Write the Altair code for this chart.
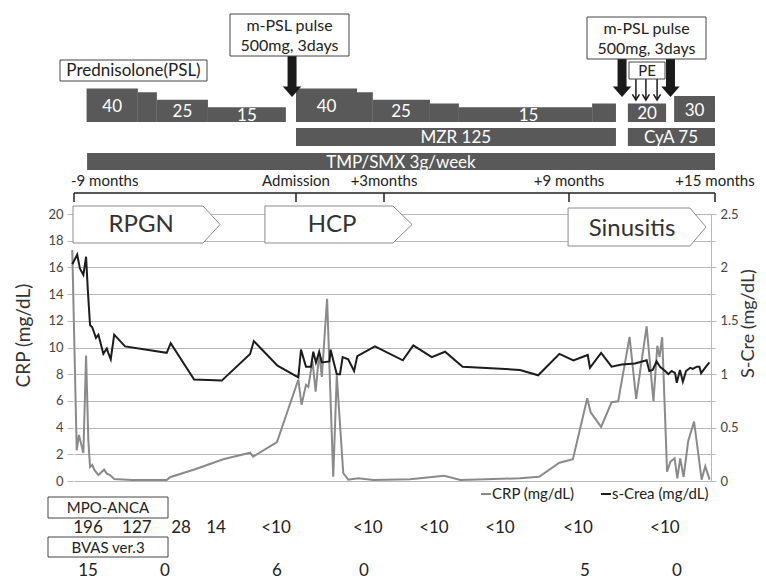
import altair as alt
import pandas as pd

# ---------------- data (x in months from admission) ----------------
crp_month = [-9.07, -8.89, -8.80, -8.72, -8.62, -8.51, -8.42, -8.35, -8.26, -8.18,
             -8.01, -7.78, -7.67, -7.54, -7.37, -6.66, -5.24, -5.11, -4.09, -2.95,
             -1.86, -1.74, -0.77, 0.08, 0.19, 0.34, 0.42, 0.56, 0.67, 0.79,
             0.88, 1.06, 1.27, 1.39, 1.61, 1.78, 2.12, 2.64, 3.84, 4.17,
             4.95, 5.48, 7.41, 8.03, 8.69, 9.16, 9.75, 9.89, 10.32, 10.75,
             11.02, 11.49, 11.76, 12.19, 12.47, 12.63, 12.72, 12.83, 13.03, 13.17,
             13.34, 13.45, 13.57, 13.71, 13.90, 14.14, 14.33, 14.45, 14.60, 14.78]
crp_value = [17.3, 2.3, 3.45, 2.85, 2.1, 9.4, 3.1, 1.05, 1.2, 0.85,
             0.45, 0.85, 0.55, 0.45, 0.15, 0.08, 0.07, 0.28, 0.88, 1.63,
             2.12, 1.82, 2.92, 7.6, 5.7, 7.2, 7.05, 9.0, 6.7, 9.6,
             7.8, 13.65, 0.32, 7.9, 0.6, 0.1, 0.2, 0.07, 0.13, 0.2,
             0.4, 0.07, 0.2, 0.32, 1.37, 1.63, 6.2, 5.15, 4.05, 5.9,
             5.97, 10.8, 6.15, 11.58, 5.98, 10.13, 9.3, 10.77, 0.7, 1.45,
             1.7, 0.2, 1.7, 0.3, 3.0, 4.45, 1.8, 0.1, 1.1, 0.1]

scre_month = [-9.07, -8.87, -8.76, -8.62, -8.51, -8.44, -8.35, -8.26, -8.11, -8.01,
              -7.91, -7.81, -7.67, -7.61, -7.51, -7.37, -6.93, -5.24, -5.08, -4.13,
              -3.01, -1.86, -1.71, -0.75, 0.08, 0.17, 0.34, 0.51, 0.59, 0.68,
              0.79, 0.88, 1.14, 1.18, 1.39, 1.50, 1.59, 1.78, 1.98, 2.09,
              2.69, 3.61, 3.95, 4.55, 4.98, 5.55, 7.41, 8.00, 8.69, 9.18,
              9.77, 9.86, 10.32, 10.75, 11.17, 11.71, 12.19, 12.30, 12.44, 12.60,
              12.74, 12.95, 13.08, 13.22, 13.36, 13.43, 13.56, 13.68, 13.81, 13.98,
              14.09, 14.25, 14.36, 14.43, 14.59, 14.77]
scre_value = [2.03, 2.12, 1.99, 1.93, 2.10, 1.79, 1.46, 1.44, 1.34, 1.37,
              1.28, 1.19, 1.24, 1.20, 1.14, 1.37, 1.26, 1.20, 1.29, 0.95,
              0.94, 1.19, 1.31, 1.08, 0.97, 1.23, 1.07, 1.07, 1.21, 1.11,
              1.21, 1.11, 1.12, 1.23, 1.00, 1.00, 1.16, 1.14, 1.03, 1.17,
              1.26, 1.13, 1.27, 1.16, 1.21, 1.07, 1.04, 0.99, 1.19, 1.13,
              1.18, 1.06, 1.20, 1.07, 1.09, 1.10, 1.13, 1.03, 1.04, 1.12,
              1.07, 1.03, 1.00, 1.03, 1.01, 0.92, 1.04, 0.93, 1.03, 1.06,
              1.05, 1.07, 1.07, 1.01, 1.06, 1.11]

anca_month = [-8.43, -6.45, -4.66, -3.24, -0.81, 2.45, 4.62, 6.76, 9.37, 12.94]
anca_text = ["196", "127", "28", "14", "<10", "<10", "<10", "<10", "<10", "<10"]
bvas_month = [-8.43, -5.31, -0.77, 2.32, 9.66, 13.44]
bvas_text = ["15", "0", "6", "0", "5", "0"]

# prednisolone (PSL) dose steps, mg/day
psl_start = [-8.49, -6.41, -5.64, -3.57, 0.00, 2.08, 2.62, 4.49, 5.43, 9.95, 11.42, 13.32]
psl_end = [-6.41, -5.64, -3.57, -0.41, 2.08, 2.62, 4.49, 5.43, 9.95, 10.93, 12.99, 15.00]
psl_dose = [40, 35, 25, 15, 40, 35, 25, 20, 15, 20, 20, 30]
psl_labelled = [True, False, True, True, True, False, True, False, True, False, True, True]

drug_name = ["MZR 125", "CyA 75", "TMP/SMX 3g/week"]
drug_start = [0.00, 11.42, -8.47]
drug_end = [10.93, 15.00, 15.00]
drug_label_month = [5.33, 13.19, 3.55]
drug_row = [0, 0, 1]

pulse_month = [-0.16, 11.18, 13.17]
pe_month = [11.75, 12.16, 12.62]

phase_name = ["RPGN", "HCP", "Sinusitis"]
phase_start = [-9.04, -1.26, 8.97]
phase_body_end = [-3.77, 3.29, 13.97]
phase_tip = [-3.08, 3.91, 14.63]
phase_label_month = [-6.28, 1.23, 11.59]

timeline_month = [-9, 0, 3, 9, 15]
timeline_text = ["-9 months", "Admission", "+3months", "+9 months", "+15 months"]

# ---------------- layout (page pixels -> plot-relative pixels) ----------------
PX0, PY0 = 73, 214
W, H = 638, 267
FONT = "Lato"
BAR = "#595959"


def rx(v):
    return v - PX0


def ry(v):
    return v - PY0


xscale = alt.Scale(domain=timeline_month,
                   range=[rx(74), rx(296), rx(384), rx(569), rx(715)],
                   nice=False, zero=False)


def X(field):
    return alt.X(f"{field}:Q", scale=xscale, axis=None)


def PY(field):
    return alt.Y(f"{field}:Q", scale=None)


layers = []

# pentagon phase arrows
prow = []
for i, n in enumerate(phase_name):
    top, bot = (ry(206), ry(243)) if i < 2 else (ry(208), ry(246))
    mid = (top + bot) / 2
    prow += [dict(name=n, m=phase_start[i], t=top, b=bot),
             dict(name=n, m=phase_body_end[i], t=top, b=bot),
             dict(name=n, m=phase_tip[i], t=mid, b=mid)]
layers.append(alt.Chart(pd.DataFrame(prow)).mark_area(
    fill="white", stroke="#8c8c8c", strokeWidth=1, opacity=1).encode(
    x=X("m"), y=PY("t"), y2="b:Q", detail="name:N"))
plab = pd.DataFrame({"m": phase_label_month, "t": phase_name,
                     "y": [ry(225), ry(225), ry(229)]})
layers.append(alt.Chart(plab).mark_text(font=FONT, fontSize=24, color="#333").encode(
    x=X("m"), y=PY("y"), text="t:N"))

# CRP line with left axis + grid
crp_df = pd.DataFrame({"month": crp_month, "crp": crp_value})
layers.append(alt.Chart(crp_df).mark_line(color="#8a8a8a", strokeWidth=2).encode(
    x=X("month"),
    y=alt.Y("crp:Q", scale=alt.Scale(domain=[0, 20], nice=False, zero=True),
            axis=alt.Axis(orient="left", values=list(range(0, 21, 2)), grid=True,
                          gridColor="#b8b8b8", gridWidth=1, domain=False,
                          tickSize=6, tickColor="#b8b8b8", labelFont=FONT,
                          labelFontSize=13, labelColor="#444", labelPadding=4,
                          title="CRP (mg/dL)", titleFont=FONT, titleFontSize=19,
                          titleFontWeight="normal", titleColor="#333",
                          titlePadding=14, titleY=121))))

# S-Cre line with right axis
scre_df = pd.DataFrame({"month": scre_month, "scre": scre_value})
layers.append(alt.Chart(scre_df).mark_line(color="#1c1c1c", strokeWidth=2).encode(
    x=X("month"),
    y=alt.Y("scre:Q", scale=alt.Scale(domain=[0, 2.5], nice=False, zero=True),
            axis=alt.Axis(orient="right", values=[0, 0.5, 1, 1.5, 2, 2.5], format="~g",
                          grid=False, domain=True, domainColor="#b8b8b8",
                          tickSize=5, tickColor="#b8b8b8", labelFont=FONT,
                          labelFontSize=13, labelColor="#444", labelPadding=4,
                          title="S-Cre (mg/dL)", titleFont=FONT, titleFontSize=18,
                          titleFontWeight="normal", titleColor="#333",
                          titleAngle=270, titleBaseline="top", titlePadding=1,
                          titleY=109))))

# timeline bracket
layers.append(alt.Chart(pd.DataFrame({"a": [timeline_month[0]], "b": [timeline_month[-1]]}))
              .mark_rule(color="#222", strokeWidth=1.5).encode(
    x=X("a"), x2="b:Q", y=alt.value(ry(193))))
tl = pd.DataFrame({"m": timeline_month, "t": timeline_text})
layers.append(alt.Chart(tl).mark_rule(color="#222", strokeWidth=1.5).encode(
    x=X("m"), y=alt.value(ry(193)), y2=alt.value(ry(202))))
layers.append(alt.Chart(tl.iloc[:1]).mark_text(font=FONT, fontSize=15, color="#222",
                                                align="left", dx=-3).encode(
    x=X("m"), y=alt.value(ry(181)), text="t:N"))
layers.append(alt.Chart(tl.iloc[1:]).mark_text(font=FONT, fontSize=15, color="#222",
                                                align="center").encode(
    x=X("m"), y=alt.value(ry(181)), text="t:N"))

# treatment bars
bottom = ry(122)
psl = pd.DataFrame({"s": psl_start, "e": psl_end, "dose": psl_dose, "lab": psl_labelled})
psl["top"] = bottom - (3.5 + 0.75 * psl["dose"])
psl["bot"] = bottom
psl["mid"] = (psl["s"] + psl["e"]) / 2
psl["ty"] = (psl["top"] + psl["bot"]) / 2 + 1.5
psl["txt"] = psl["dose"].astype(str)
layers.append(alt.Chart(psl).mark_rect(color=BAR).encode(
    x=X("s"), x2="e:Q", y=PY("top"), y2="bot:Q"))
layers.append(alt.Chart(psl[psl["lab"]]).mark_text(font=FONT, fontSize=17, color="white").encode(
    x=X("mid"), y=PY("ty"), text="txt:N"))

rows = [(ry(128), ry(146)), (ry(153), ry(170))]
drug = pd.DataFrame({"name": drug_name, "s": drug_start, "e": drug_end,
                     "lm": drug_label_month,
                     "top": [rows[r][0] for r in drug_row],
                     "bot": [rows[r][1] for r in drug_row]})
drug["ty"] = (drug["top"] + drug["bot"]) / 2 + 1
layers.append(alt.Chart(drug).mark_rect(color=BAR).encode(
    x=X("s"), x2="e:Q", y=PY("top"), y2="bot:Q"))
layers.append(alt.Chart(drug).mark_text(font=FONT, fontSize=17, color="white").encode(
    x=X("lm"), y=PY("ty"), text="name:N"))

# arrows
TRI = "M -1 0 L 1 0 L 0 1.15 Z"
pulse = pd.DataFrame({"m": pulse_month, "y0": [ry(56), ry(59), ry(59)],
                      "y1": [ry(88)] * 3, "yh": [ry(86.5)] * 3})
layers.append(alt.Chart(pulse).mark_rule(color="#1a1a1a", strokeWidth=9).encode(
    x=X("m"), y=PY("y0"), y2="y1:Q"))
layers.append(alt.Chart(pulse).mark_point(shape=TRI, size=340, filled=True, fill="#1a1a1a",
                                          strokeWidth=0, opacity=1).encode(
    x=X("m"), y=PY("yh")))
pe = pd.DataFrame({"m": pe_month, "y0": [ry(79)] * 3, "y1": [ry(100)] * 3})
layers.append(alt.Chart(pe).mark_rule(color="#1a1a1a", strokeWidth=1.5).encode(
    x=X("m"), y=PY("y0"), y2="y1:Q"))
layers.append(alt.Chart(pe).mark_point(shape="M -1 -1.6 L 0 0 L 1 -1.6", size=49, filled=False,
                                       stroke="#1a1a1a", strokeWidth=1.5, opacity=1).encode(
    x=X("m"), y=PY("y1")))

# annotation boxes
boxes = pd.DataFrame({
    "x0": [rx(60), rx(230), rx(587), rx(629), rx(48), rx(48)],
    "x1": [rx(207), rx(349), rx(706), rx(665), rx(168), rx(168)],
    "y0": [ry(60), ry(14), ry(17), ry(62), ry(497), ry(537)],
    "y1": [ry(81), ry(56), ry(59), ry(79), ry(518), ry(557)],
})
layers.append(alt.Chart(boxes).mark_rect(fill="white", stroke="#444", strokeWidth=1).encode(
    x=alt.X("x0:Q", scale=None), x2="x1:Q", y=PY("y0"), y2="y1:Q"))
btxt = pd.DataFrame({
    "t": ["Prednisolone(PSL)", "m-PSL pulse", "500mg, 3days", "m-PSL pulse", "500mg, 3days",
          "PE", "MPO-ANCA", "BVAS ver.3"],
    "x": [rx(133.5), rx(289.5), rx(289.5), rx(646.5), rx(646.5), rx(647), rx(108), rx(108)],
    "y": [ry(71), ry(26), ry(46), ry(29), ry(49), ry(71), ry(508), ry(548)],
    "fs": [17, 16, 16, 16, 16, 15, 15, 15],
})
layers.append(alt.Chart(btxt).mark_text(font=FONT, color="#222").encode(
    x=alt.X("x:Q", scale=None), y=PY("y"), text="t:N",
    size=alt.Size("fs:Q", scale=None, legend=None)))

# MPO-ANCA and BVAS values
anca = pd.DataFrame({"m": anca_month, "t": anca_text})
layers.append(alt.Chart(anca).mark_text(font=FONT, fontSize=17, color="#222").encode(
    x=X("m"), y=alt.value(ry(528)), text="t:N"))
bvas = pd.DataFrame({"m": bvas_month, "t": bvas_text})
layers.append(alt.Chart(bvas).mark_text(font=FONT, fontSize=17, color="#222").encode(
    x=X("m"), y=alt.value(ry(571)), text="t:N"))

# legend
leg = pd.DataFrame({"x0": [rx(481), rx(601)], "x1": [rx(491), rx(611)],
                    "tx": [rx(492), rx(612)], "t": ["CRP (mg/dL)", "s-Crea (mg/dL)"],
                    "c": ["#8a8a8a", "#1c1c1c"]})
layers.append(alt.Chart(leg).mark_rule(strokeWidth=2).encode(
    x=alt.X("x0:Q", scale=None), x2="x1:Q", y=alt.value(ry(494)),
    color=alt.Color("c:N", scale=None, legend=None)))
layers.append(alt.Chart(leg).mark_text(font=FONT, fontSize=15, color="#222", align="left").encode(
    x=alt.X("tx:Q", scale=None), y=alt.value(ry(494)), text="t:N"))

chart = alt.layer(*layers).resolve_scale(y="independent").properties(
    width=W, height=H,
    autosize=alt.AutoSizeParams(type="none"),
    padding={"left": PX0 - 8, "top": PY0 - 8, "right": 47, "bottom": 98},
).configure_view(stroke=None)

chart.save("out.html", embed_options={"renderer": "svg", "actions": False})
